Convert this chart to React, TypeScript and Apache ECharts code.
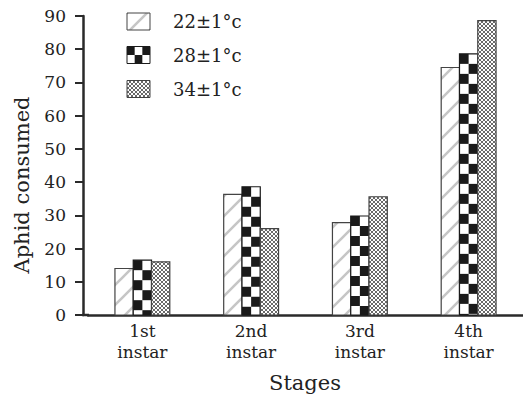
import React, { useEffect, useRef } from "react";
import * as echarts from "echarts";

const categories = ["1st\ninstar", "2nd\ninstar", "3rd\ninstar", "4th\ninstar"];
const temp22 = [14.0, 36.3, 27.8, 74.5];
const temp28 = [16.5, 38.6, 29.8, 78.6];
const temp34 = [16.0, 26.0, 35.6, 88.6];
const seriesNames = ["22±1°c", "28±1°c", "34±1°c"];
const yTicks = { min: 0, max: 90, interval: 10 };

const FONT = "DejaVu Serif";
const INK = "#222";
const GRID_LEFT = 88;
const GRID_TOP = 16;
const GRID_BOTTOM = 81;
const BAR_FRAC = 19 / 113;

function hatchURL(): string {
  const c = document.createElement("canvas");
  c.width = 20;
  c.height = 20;
  const g = c.getContext("2d")!;
  g.fillStyle = "#fff";
  g.fillRect(0, 0, 20, 20);
  g.strokeStyle = "#c6c6c6";
  g.lineWidth = 2.6;
  g.beginPath();
  g.moveTo(-3, 23);
  g.lineTo(23, -3);
  g.moveTo(-3, 3);
  g.lineTo(3, -3);
  g.moveTo(17, 23);
  g.lineTo(23, 17);
  g.stroke();
  return c.toDataURL();
}

function stippleURL(): string {
  const c = document.createElement("canvas");
  c.width = 4;
  c.height = 4;
  const g = c.getContext("2d")!;
  g.fillStyle = "#fff";
  g.fillRect(0, 0, 4, 4);
  g.fillStyle = "#6a6a6a";
  const pts = [
    [0, 0], [1, 1], [2, 2], [3, 3], [3, 0], [2, 1], [1, 2], [0, 3],
  ];
  pts.forEach(([x, y]) => g.fillRect(x, y, 1, 1));
  return c.toDataURL();
}

export default function App() {
  const ref = useRef<HTMLDivElement>(null);

  useEffect(() => {
    if (!ref.current) return;
    const chart = echarts.init(ref.current, undefined, { renderer: "svg" });
    const hatch = { image: hatchURL(), repeat: "repeat", imageWidth: 20, imageHeight: 20 };
    const stipple = { image: stippleURL(), repeat: "repeat", imageWidth: 4, imageHeight: 4 };

    const makeRender = (idx: number, kind: string) => (params: any, api: any) => {
      const cat = api.value(0);
      const v = api.value(1);
      const top = api.coord([cat, v]);
      const base = api.coord([cat, 0]);
      const band = api.size([1, 0])[0];
      const w = band * BAR_FRAC;
      const x = top[0] + (idx - 1) * w - w / 2;
      const y = top[1];
      const h = base[1] - top[1];
      if (kind === "checker") {
        const children: any[] = [
          { type: "rect", shape: { x, y, width: w, height: h }, style: { fill: "#fff", stroke: "none" } },
        ];
        const cellH = 10;
        const cw = w / 2;
        for (let r = 0; y + r * cellH < base[1]; r++) {
          const cy = y + r * cellH;
          const ch = Math.min(cellH, base[1] - cy);
          for (let c = 0; c < 2; c++) {
            if ((r + c) % 2 === 0) {
              children.push({
                type: "rect",
                shape: { x: x + c * cw, y: cy, width: cw, height: ch },
                style: { fill: "#1a1a1a" },
              });
            }
          }
        }
        children.push({
          type: "rect",
          shape: { x, y, width: w, height: h },
          style: { fill: "none", stroke: "#1a1a1a", lineWidth: 1.2 },
        });
        return { type: "group", children };
      }
      return {
        type: "rect",
        shape: { x, y, width: w, height: h },
        style: { fill: kind === "hatch" ? hatch : stipple, stroke: "#444", lineWidth: 1.2 },
      };
    };

    const toData = (arr: number[]) => arr.map((v, i) => [i, v]);
    const legendY = [21.5, 55, 89];

    const checkerIcon = (cy: number) => {
      const children: any[] = [];
      const cw = 23 / 3;
      const ch = 17 / 2;
      for (let r = 0; r < 2; r++)
        for (let c = 0; c < 3; c++)
          if ((r + c) % 2 === 0)
            children.push({ type: "rect", shape: { x: 127 + c * cw, y: cy - 8.5 + r * ch, width: cw, height: ch }, style: { fill: "#1a1a1a" } });
      children.push({ type: "rect", shape: { x: 127, y: cy - 8.5, width: 23, height: 17 }, style: { fill: "none", stroke: "#1a1a1a", lineWidth: 1 } });
      return { type: "group", children };
    };

    const graphic: any[] = [
      { type: "rect", shape: { x: 127, y: legendY[0] - 8.5, width: 23, height: 17 }, style: { fill: hatch, stroke: "#444", lineWidth: 1 } },
      checkerIcon(legendY[1]),
      { type: "rect", shape: { x: 127, y: legendY[2] - 8.5, width: 23, height: 17 }, style: { fill: stipple, stroke: "#444", lineWidth: 1 } },
      ...seriesNames.map((n, i) => ({
        type: "text",
        x: 173,
        y: legendY[i],
        style: { text: n, fontFamily: FONT, fontSize: 18, fill: INK, verticalAlign: "middle", align: "left" },
      })),
      {
        type: "text",
        x: 22,
        y: 185,
        rotation: Math.PI / 2,
        style: { text: "Aphid consumed", fontFamily: FONT, fontSize: 21, fill: INK, align: "center", verticalAlign: "middle" },
      },
      {
        type: "text",
        x: 305,
        y: 383,
        style: { text: "Stages", fontFamily: FONT, fontSize: 21, fill: INK, align: "center", verticalAlign: "middle" },
      },
      {
        type: "line",
        shape: { x1: 82, y1: 396 - GRID_BOTTOM, x2: GRID_LEFT + 1, y2: 396 - GRID_BOTTOM },
        style: { stroke: "#2a2a2a", lineWidth: 2.5 },
      },
    ];

    chart.setOption({
      animation: false,
      backgroundColor: "#fff",
      grid: { left: GRID_LEFT, right: -17, top: GRID_TOP, bottom: GRID_BOTTOM, containLabel: false },
      xAxis: {
        type: "category",
        data: categories,
        boundaryGap: true,
        axisLine: { lineStyle: { color: "#2a2a2a", width: 2.5 } },
        axisTick: { show: false },
        axisLabel: { fontFamily: FONT, fontSize: 17, lineHeight: 21, color: INK, margin: 5, interval: 0 },
        splitLine: { show: false },
      },
      yAxis: {
        type: "value",
        min: yTicks.min,
        max: yTicks.max,
        interval: yTicks.interval,
        offset: 5,
        axisLine: { show: true, lineStyle: { color: "#2a2a2a", width: 2.5 } },
        axisTick: { show: true, inside: false, length: 8, lineStyle: { color: "#2a2a2a", width: 2 } },
        axisLabel: { fontFamily: FONT, fontSize: 17, color: INK, margin: 17 },
        splitLine: { show: false },
      },
      series: [
        { type: "custom", name: seriesNames[0], data: toData(temp22), renderItem: makeRender(0, "hatch"), clip: false },
        { type: "custom", name: seriesNames[1], data: toData(temp28), renderItem: makeRender(1, "checker"), clip: false },
        { type: "custom", name: seriesNames[2], data: toData(temp34), renderItem: makeRender(2, "stipple"), clip: false },
      ],
      graphic,
    });
    return () => chart.dispose();
  }, []);

  return <div ref={ref} style={{ width: 523, height: 396, position: "absolute", left: 0, top: 0 }} />;
}
